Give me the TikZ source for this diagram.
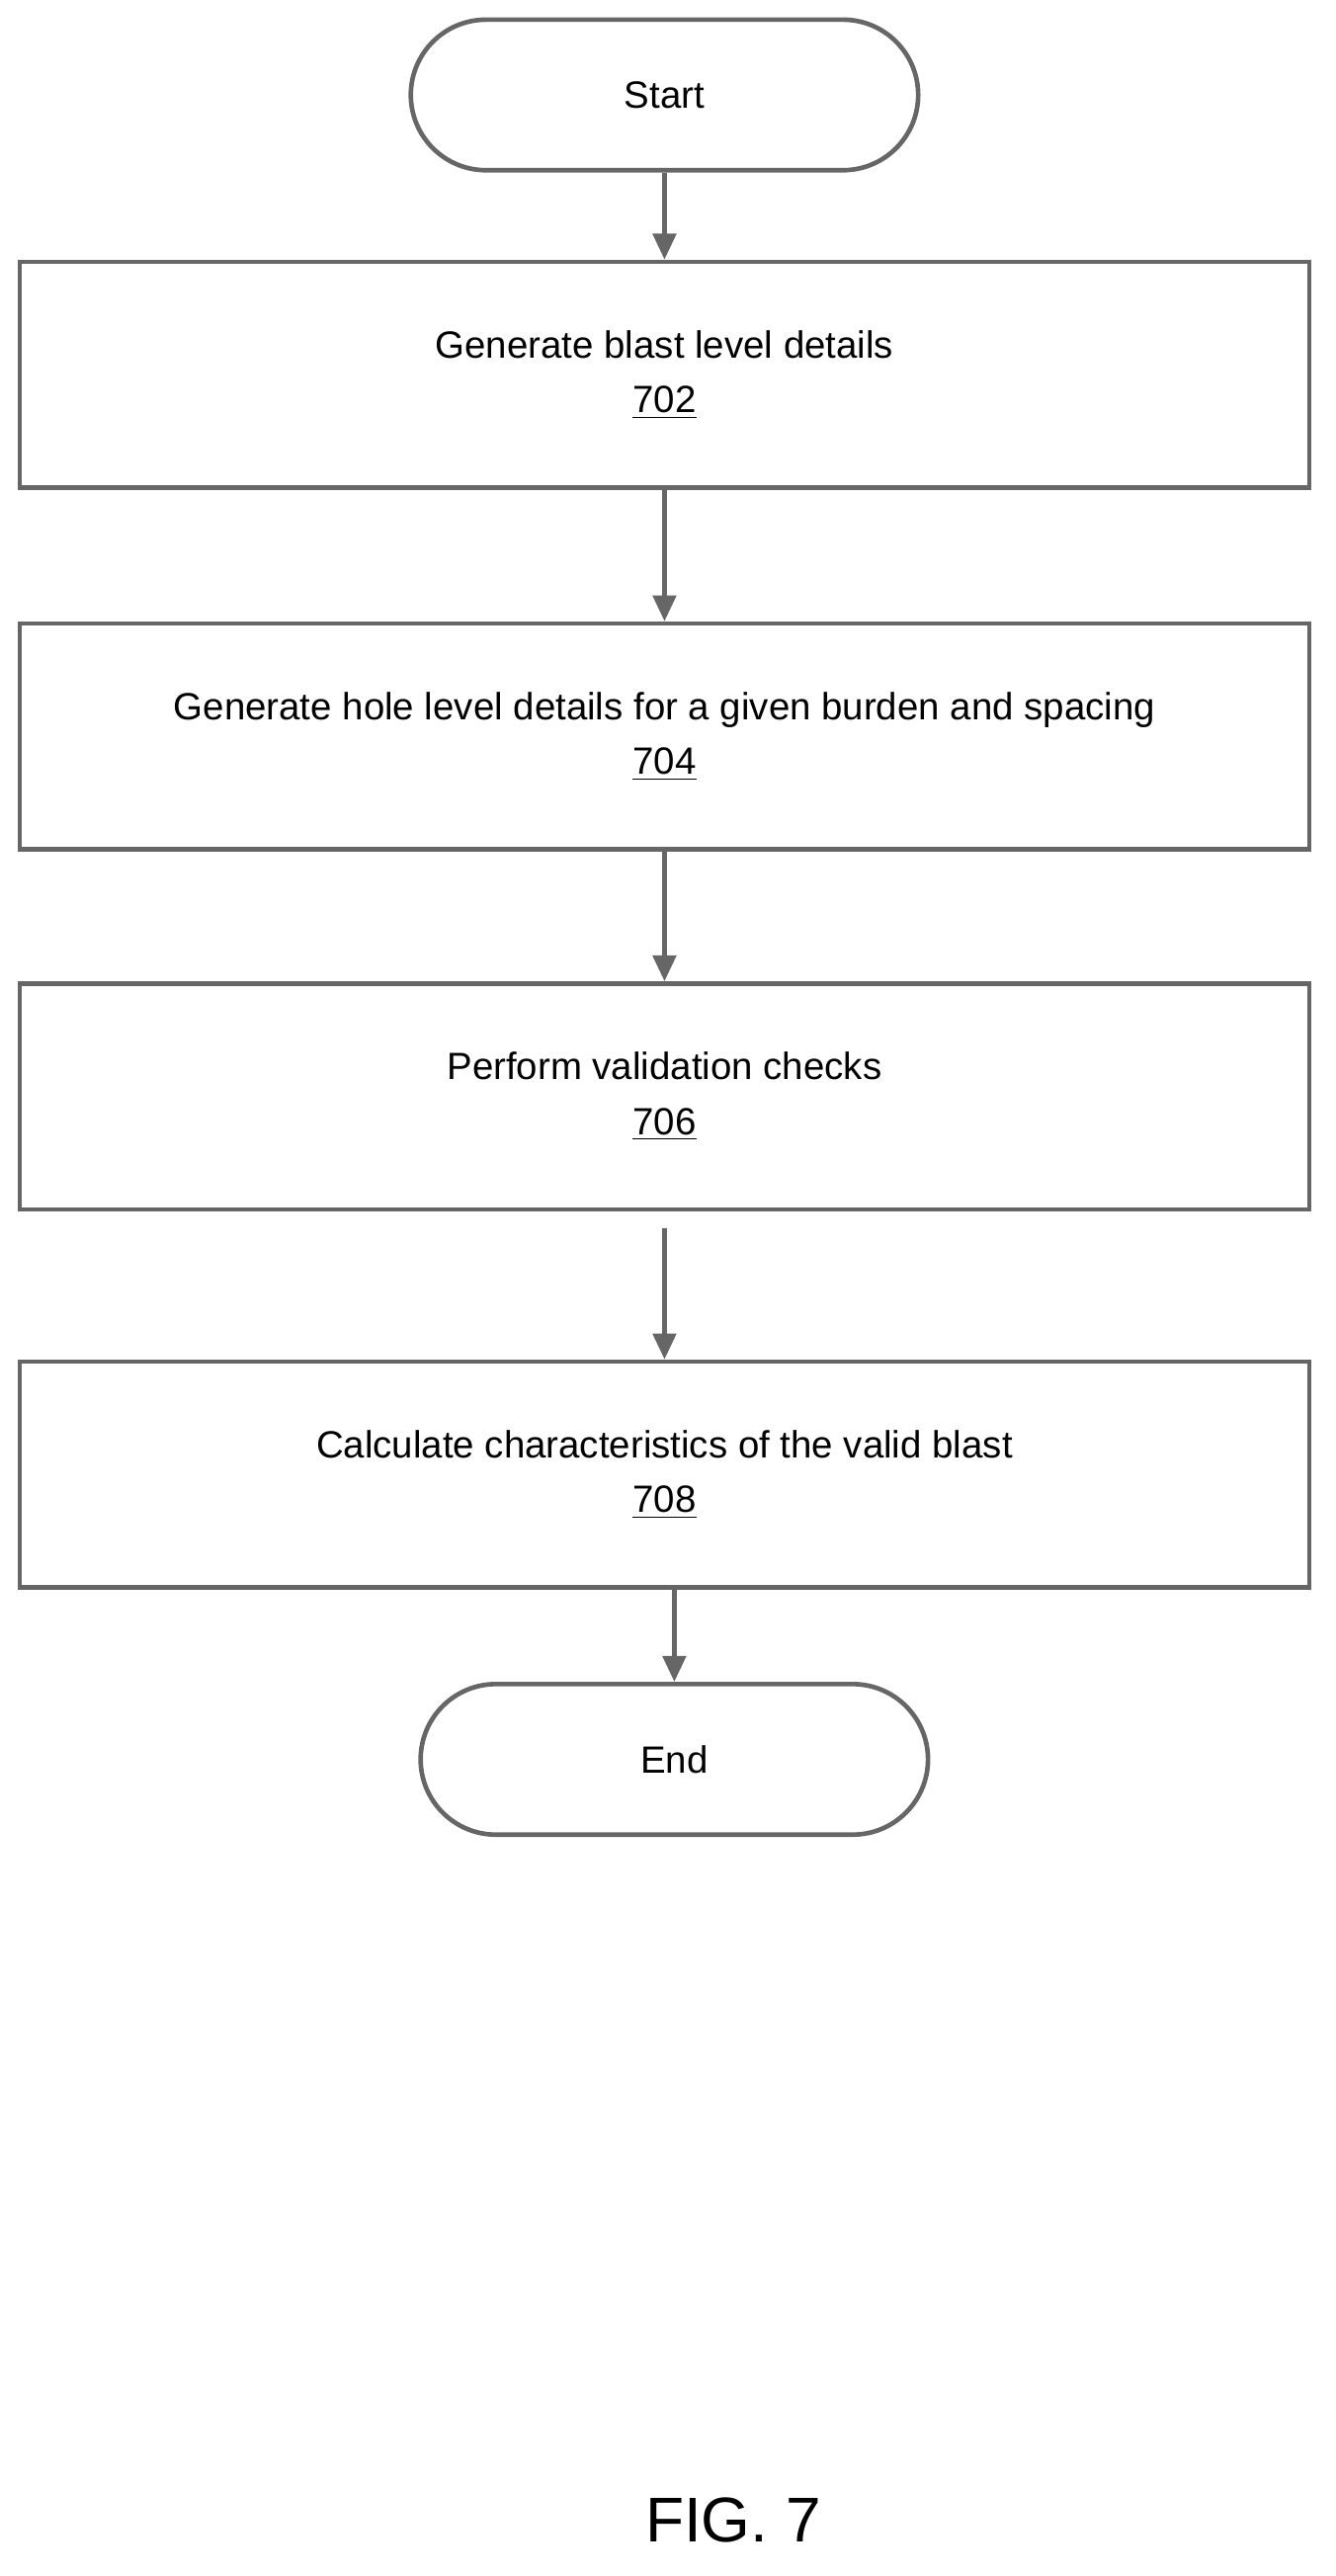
\documentclass[tikz,border=0pt]{standalone}
\usepackage{fontspec}
\setmainfont{Liberation Sans}
\usetikzlibrary{arrows.meta,positioning}
\tikzset{
	blk/.style={draw=black!60, line width=1.6pt, rectangle, minimum width=15.76cm, minimum height=2.76cm, align=center, font=\fontsize{13.2}{19}\selectfont},
	term/.style={draw=black!60, line width=1.6pt, rectangle, rounded corners=0.92cm, minimum width=6.2cm, minimum height=1.84cm, font=\fontsize{13.2}{15}\selectfont},
	flow/.style={draw=black!60, line width=1.6pt, -{Triangle[length=9pt,width=8pt]}}
}
\begin{document}
\begin{tikzpicture}
	\useasboundingbox (0,0) rectangle (16.32,-31.48);
	\node[term](START) at (8.12,-1.16){Start};
	\node[blk](B702) at (8.12,-4.58){Generate blast level details\\\underline{702}};
	\node[blk](B704) at (8.12,-9.00){Generate hole level details for a given burden and spacing\\\underline{704}};
	\node[blk](B706) at (8.12,-13.40){Perform validation checks\\\underline{706}};
	\node[blk](B708) at (8.12,-18.02){Calculate characteristics of the valid blast\\\underline{708}};
	\node[term](END) at (8.24,-21.50){End};
	\node(FIG) at (8.96,-30.80){\fontsize{22}{26}\selectfont FIG. 7};
	
	\draw[flow] (START) -- (B702);
	\draw[flow] (B702) -- (B704);
	\draw[flow] (B704) -- (B706);
	\draw[flow] ([yshift=-0.2cm]B706.south) -- (B708);
	\draw[flow] (B708.south -| END) -- (END);
\end{tikzpicture}
\end{document}
